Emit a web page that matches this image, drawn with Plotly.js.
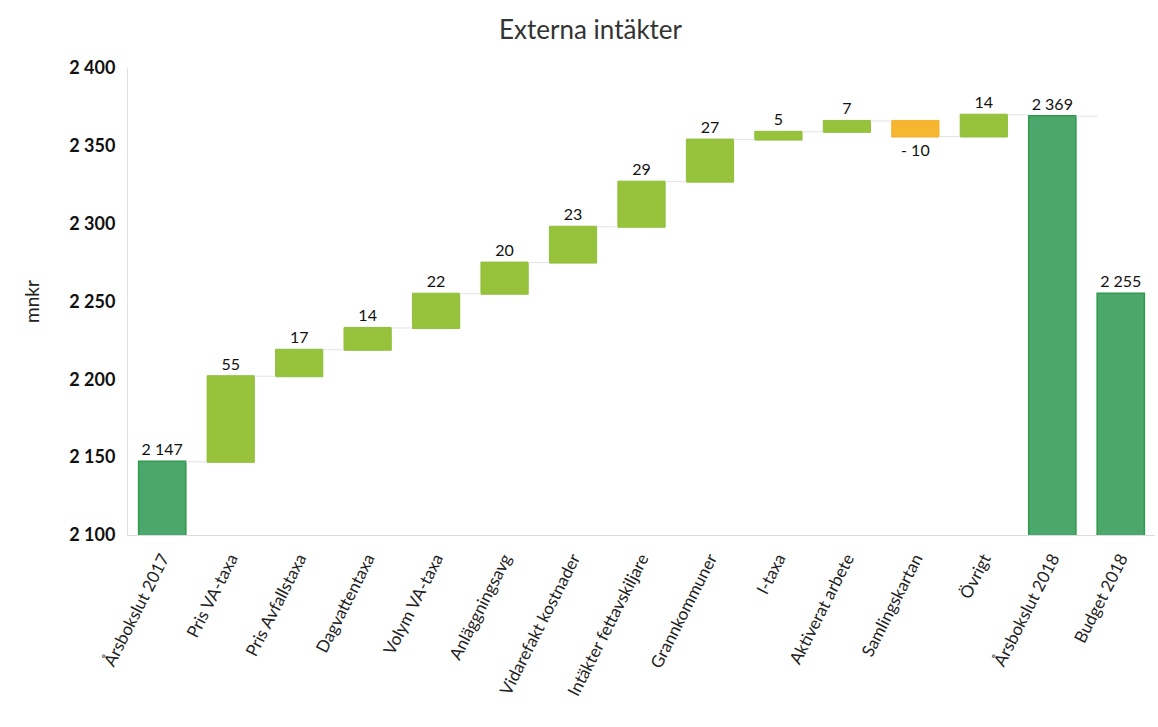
<!DOCTYPE html>
<html>
<head>
<meta charset="utf-8">
<script src="https://cdn.plot.ly/plotly-3.0.1.min.js"></script>
<style>html,body{margin:0;padding:0;background:#fff;}#chart{width:1158px;height:727px;}</style>
</head>
<body>
<div id="chart"></div>
<script>
const categories = ["Årsbokslut 2017","Pris VA-taxa","Pris Avfallstaxa","Dagvattentaxa","Volym VA-taxa","Anläggningsavg","Vidarefakt kostnader","Intäkter fettavskiljare","Grannkommuner","I-taxa","Aktiverat arbete","Samlingskartan","Övrigt","Årsbokslut 2018","Budget 2018"];
const values = [2147, 55, 17, 14, 22, 20, 23, 29, 27, 5, 7, -10, 14, 2369, 2255];
const measures = ["absolute","relative","relative","relative","relative","relative","relative","relative","relative","relative","relative","relative","relative","absolute","absolute"];
const labels = ["2 147","55","17","14","22","20","23","29","27","5","7","- 10","14","2 369","2 255"];
const yTicks = [2100, 2150, 2200, 2250, 2300, 2350, 2400];
const yTickText = ["2 100","2 150","2 200","2 250","2 300","2 350","2 400"];

const trace = {
  type: "waterfall",
  x: categories,
  y: values,
  measure: measures,
  text: labels,
  textposition: "outside",
  textfont: {family: "Lato, 'Open Sans', sans-serif", size: 16, color: "#111"},
  cliponaxis: false,
  increasing: {marker: {color: "#97c23c", line: {color: "#8fbf3a", width: 1}}},
  decreasing: {marker: {color: "#f6b630", line: {color: "#f2b02a", width: 1}}},
  totals: {marker: {color: "#4ba76b", line: {color: "#2f9a4c", width: 1.5}}},
  connector: {mode: "between", line: {color: "#e3e3e3", width: 1}},
  hoverinfo: "x+y"
};

const layout = {
  width: 1158, height: 727,
  margin: {l: 128, r: 3, t: 68, b: 192},
  paper_bgcolor: "#fff", plot_bgcolor: "#fff",
  showlegend: false,
  waterfallgap: 0.31,
  title: {text: "Externa intäkter", x: 0.51, xanchor: "center", y: 0.972, yanchor: "top",
          font: {family: "Lato, 'Open Sans', sans-serif", size: 26, color: "#333"}},
  font: {family: "Lato, 'Open Sans', sans-serif", color: "#111"},
  xaxis: {
    type: "category",
    tickangle: -63,
    tickfont: {size: 17, color: "#222"},
    ticklabelstandoff: 6,
    showline: true, linecolor: "#dcdcdc", linewidth: 1,
    showgrid: false, ticks: "", zeroline: false
  },
  yaxis: {
    range: [2100, 2400],
    tickvals: yTicks, ticktext: yTickText,
    tickfont: {size: 18, color: "#111", weight: "bold"},
    showline: true, linecolor: "#e0e0e0", linewidth: 1,
    showgrid: false, zeroline: false, ticks: "",
    ticklabelstandoff: 8,
    title: {text: "mnkr", standoff: 24, font: {size: 19, color: "#222"}}
  }
};

Plotly.newPlot("chart", [trace], layout, {displayModeBar: false, staticPlot: true});
</script>
</body>
</html>
